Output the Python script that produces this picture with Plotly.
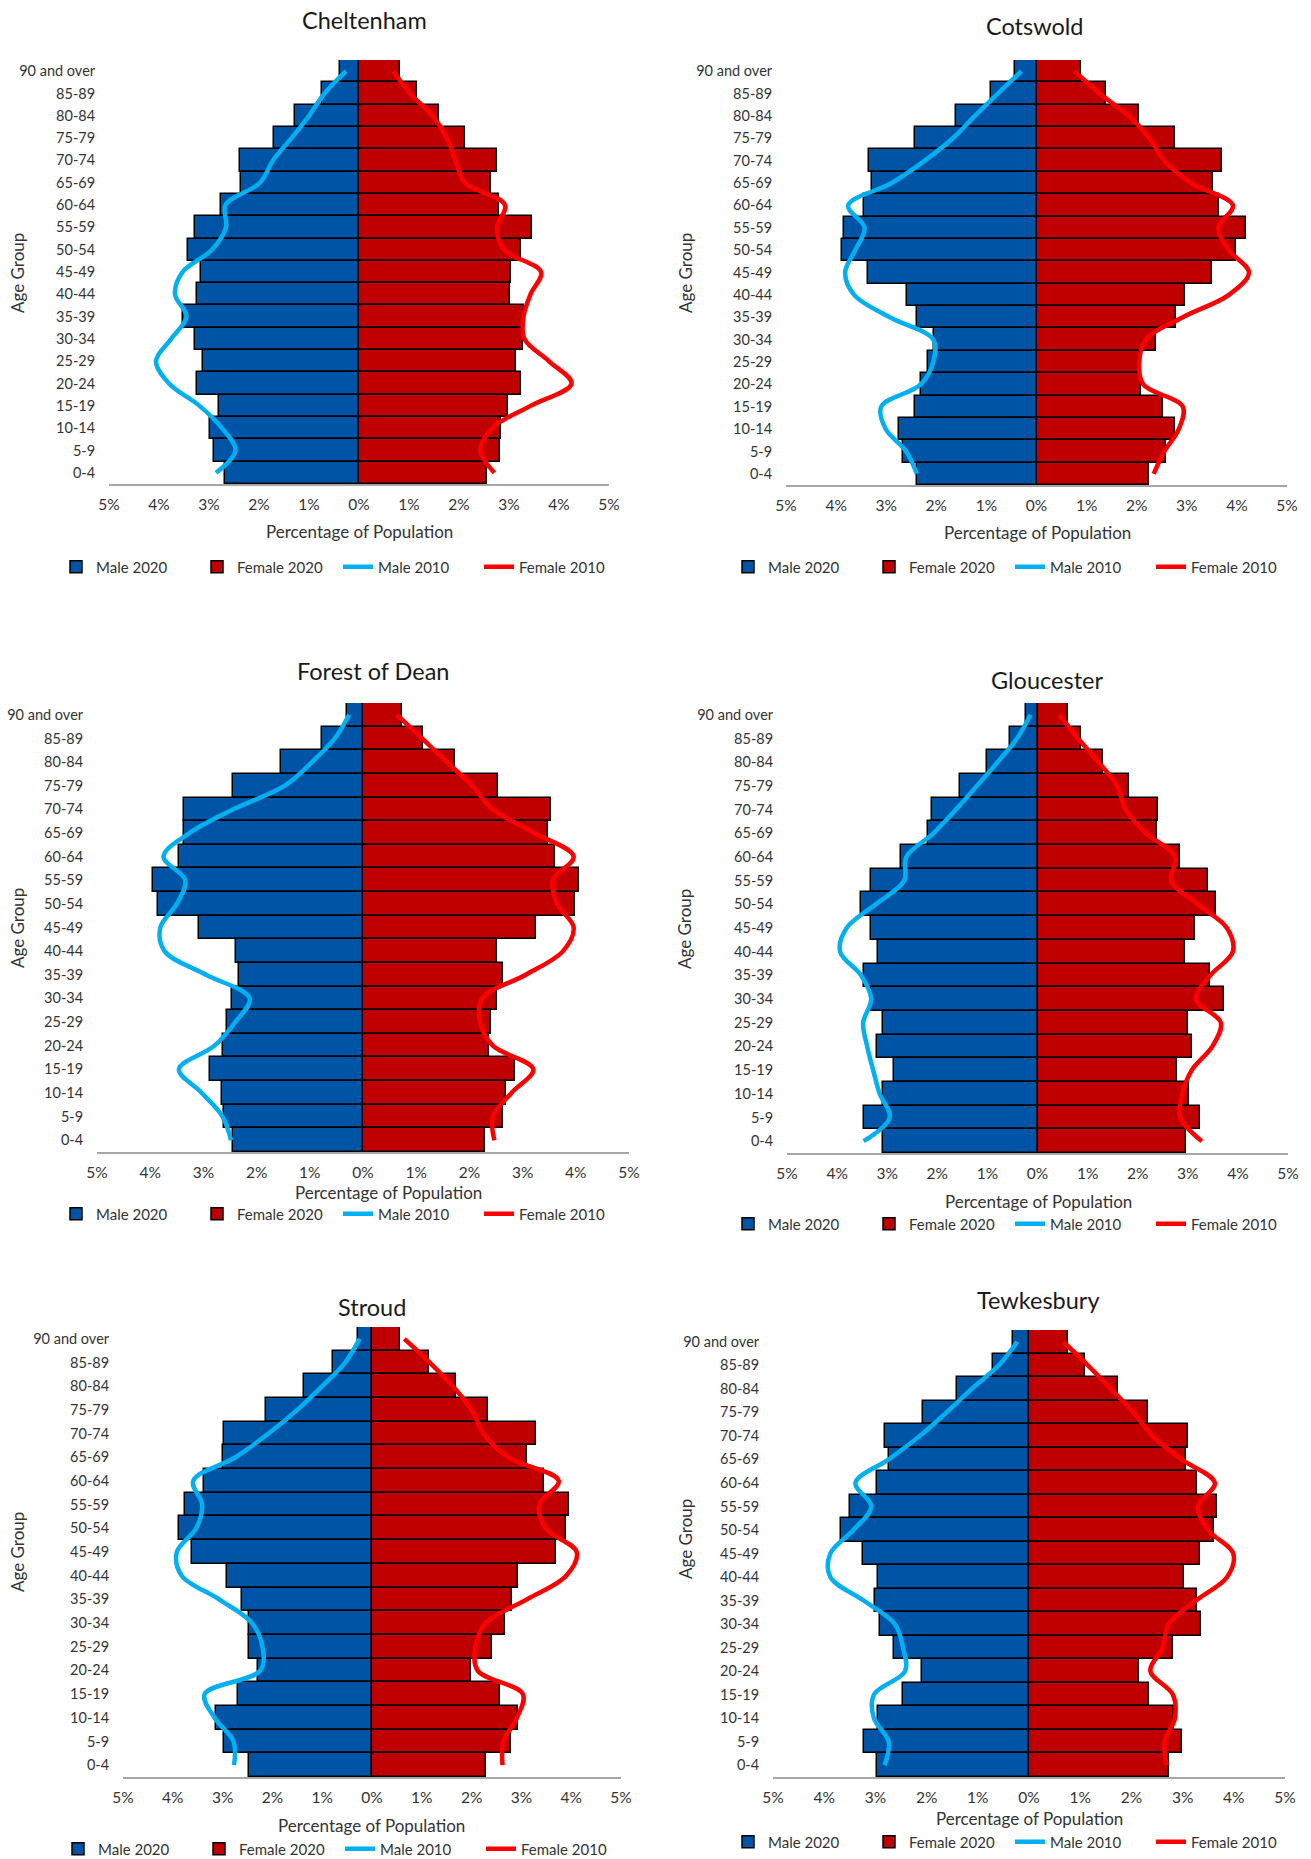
import plotly.graph_objects as go

# ---------------- data (percent of population) ----------------
AGE_GROUPS = ["90 and over", "85-89", "80-84", "75-79", "70-74", "65-69", "60-64",
              "55-59", "50-54", "45-49", "40-44", "35-39", "30-34", "25-29",
              "20-24", "15-19", "10-14", "5-9", "0-4"]

TICK_VALUES = [-5, -4, -3, -2, -1, 0, 1, 2, 3, 4, 5]
TICK_LABELS = ["5%", "4%", "3%", "2%", "1%", "0%", "1%", "2%", "3%", "4%", "5%"]

SERIES_NAMES = ["Male 2020", "Female 2020", "Male 2010", "Female 2010"]

DISTRICTS = ["Cheltenham", "Cotswold", "Forest of Dean", "Gloucester", "Stroud", "Tewkesbury"]

CHELTENHAM_MALE_2020 = [0.38, 0.74, 1.29, 1.71, 2.39, 2.36, 2.77, 3.28, 3.43, 3.16, 3.24, 3.53, 3.28, 3.12, 3.25, 2.81, 2.99, 2.90, 2.68]
CHELTENHAM_FEMALE_2020 = [0.81, 1.16, 1.59, 2.12, 2.75, 2.63, 2.79, 3.45, 3.24, 3.04, 3.02, 3.29, 3.27, 3.13, 3.24, 2.97, 2.83, 2.81, 2.55]
CHELTENHAM_MALE_2010 = [0.26, 0.69, 1.00, 1.35, 1.72, 1.98, 2.67, 2.66, 2.94, 3.53, 3.68, 3.45, 3.76, 4.06, 3.80, 3.19, 2.74, 2.47, 2.86]
CHELTENHAM_FEMALE_2010 = [0.69, 1.02, 1.47, 1.76, 1.93, 2.12, 2.92, 2.76, 2.90, 3.64, 3.43, 3.29, 3.31, 3.80, 4.25, 3.43, 2.66, 2.43, 2.71]

COTSWOLD_MALE_2020 = [0.43, 0.90, 1.61, 2.42, 3.34, 3.29, 3.45, 3.84, 3.89, 3.36, 2.58, 2.38, 2.04, 2.16, 2.31, 2.43, 2.75, 2.67, 2.39]
COTSWOLD_FEMALE_2020 = [0.89, 1.39, 2.05, 2.76, 3.70, 3.53, 3.65, 4.19, 3.99, 3.50, 2.97, 2.79, 2.38, 2.05, 2.08, 2.53, 2.77, 2.59, 2.24]
COTSWOLD_MALE_2010 = [0.30, 0.77, 1.23, 1.67, 2.23, 2.89, 3.76, 3.43, 3.62, 3.82, 3.64, 2.93, 2.06, 2.06, 2.31, 3.10, 3.01, 2.60, 2.39]
COTSWOLD_FEMALE_2010 = [0.76, 1.26, 1.84, 2.26, 2.55, 3.09, 3.92, 3.63, 3.84, 4.24, 3.84, 2.92, 2.18, 2.05, 2.13, 2.92, 2.84, 2.55, 2.34]

FOREST_MALE_2020 = [0.31, 0.77, 1.55, 2.44, 3.36, 3.36, 3.46, 3.95, 3.85, 3.09, 2.38, 2.33, 2.47, 2.56, 2.64, 2.87, 2.65, 2.62, 2.44]
FOREST_FEMALE_2020 = [0.73, 1.12, 1.73, 2.53, 3.53, 3.47, 3.61, 4.06, 3.98, 3.26, 2.51, 2.63, 2.51, 2.40, 2.37, 2.86, 2.69, 2.63, 2.30]
FOREST_MALE_2010 = [0.26, 0.53, 0.96, 1.47, 2.44, 3.26, 3.75, 3.34, 3.50, 3.81, 3.73, 2.95, 2.13, 2.40, 2.79, 3.46, 3.03, 2.64, 2.48]
FOREST_FEMALE_2010 = [0.64, 1.11, 1.58, 2.05, 2.44, 3.22, 3.96, 3.57, 3.65, 3.96, 3.76, 3.06, 2.24, 2.20, 2.44, 3.20, 2.79, 2.44, 2.47]

GLOUCESTER_MALE_2020 = [0.22, 0.55, 1.01, 1.54, 2.10, 2.19, 2.73, 3.33, 3.52, 3.32, 3.19, 3.46, 3.33, 3.09, 3.21, 2.86, 3.09, 3.46, 3.09]
GLOUCESTER_FEMALE_2020 = [0.60, 0.87, 1.30, 1.82, 2.40, 2.39, 2.85, 3.41, 3.57, 3.14, 2.95, 3.45, 3.72, 3.00, 3.08, 2.79, 3.02, 3.24, 2.97]
GLOUCESTER_MALE_2010 = [0.14, 0.41, 0.80, 1.21, 1.63, 2.08, 2.62, 2.66, 3.23, 3.81, 3.94, 3.52, 3.32, 3.48, 3.40, 3.28, 3.15, 2.95, 3.47]
GLOUCESTER_FEMALE_2010 = [0.44, 0.81, 1.22, 1.59, 1.76, 2.17, 2.75, 2.67, 3.20, 3.78, 3.90, 3.45, 3.16, 3.66, 3.49, 3.08, 2.89, 2.85, 3.28]

STROUD_MALE_2020 = [0.28, 0.78, 1.37, 2.12, 2.98, 3.00, 3.37, 3.75, 3.87, 3.62, 2.92, 2.62, 2.46, 2.46, 2.29, 2.70, 3.14, 2.98, 2.47]
STROUD_FEMALE_2020 = [0.56, 1.15, 1.69, 2.32, 3.30, 3.11, 3.46, 3.95, 3.90, 3.70, 2.93, 2.82, 2.67, 2.40, 1.99, 2.58, 2.93, 2.80, 2.29]
STROUD_MALE_2010 = [0.25, 0.54, 1.00, 1.50, 2.08, 2.74, 3.59, 3.41, 3.53, 3.92, 3.82, 3.07, 2.41, 2.20, 2.24, 3.36, 3.16, 2.78, 2.77]
STROUD_FEMALE_2010 = [0.65, 1.16, 1.62, 2.00, 2.24, 2.74, 3.75, 3.36, 3.49, 4.11, 3.90, 3.11, 2.28, 2.08, 2.12, 3.03, 2.91, 2.64, 2.62]

TEWKESBURY_MALE_2020 = [0.31, 0.70, 1.40, 2.07, 2.82, 2.74, 2.96, 3.50, 3.68, 3.25, 2.95, 3.00, 2.92, 2.64, 2.09, 2.47, 2.95, 3.23, 2.97]
TEWKESBURY_FEMALE_2020 = [0.76, 1.09, 1.74, 2.33, 3.10, 3.07, 3.29, 3.67, 3.61, 3.33, 3.03, 3.28, 3.36, 2.82, 2.15, 2.34, 2.83, 2.98, 2.74]
TEWKESBURY_MALE_2010 = [0.23, 0.59, 1.12, 1.61, 2.13, 2.74, 3.39, 3.08, 3.43, 3.88, 3.88, 3.23, 2.62, 2.46, 2.42, 3.03, 3.03, 2.74, 2.82]
TEWKESBURY_FEMALE_2010 = [0.67, 1.15, 1.60, 2.04, 2.41, 2.98, 3.63, 3.30, 3.50, 3.99, 3.87, 3.26, 2.73, 2.61, 2.37, 2.81, 2.85, 2.65, 2.69]

DATA = {
    "Cheltenham": (CHELTENHAM_MALE_2020, CHELTENHAM_FEMALE_2020, CHELTENHAM_MALE_2010, CHELTENHAM_FEMALE_2010),
    "Cotswold": (COTSWOLD_MALE_2020, COTSWOLD_FEMALE_2020, COTSWOLD_MALE_2010, COTSWOLD_FEMALE_2010),
    "Forest of Dean": (FOREST_MALE_2020, FOREST_FEMALE_2020, FOREST_MALE_2010, FOREST_FEMALE_2010),
    "Gloucester": (GLOUCESTER_MALE_2020, GLOUCESTER_FEMALE_2020, GLOUCESTER_MALE_2010, GLOUCESTER_FEMALE_2010),
    "Stroud": (STROUD_MALE_2020, STROUD_FEMALE_2020, STROUD_MALE_2010, STROUD_FEMALE_2010),
    "Tewkesbury": (TEWKESBURY_MALE_2020, TEWKESBURY_FEMALE_2020, TEWKESBURY_MALE_2010, TEWKESBURY_FEMALE_2010),
}

# ---------------- layout geometry (pixels) ----------------
W, H = 1311, 1859
GEOM = {
    # plot x-span, plot y-span, title centre, x-title centre, y-title centre, legend left/centre-y
    "Cheltenham":     dict(px=(109, 609), py=(60, 484), title=(364, 20), xt=(359, 531), yt=(17, 273), leg=(56, 567)),
    "Cotswold":       dict(px=(786, 1287), py=(60, 485), title=(1035, 26), xt=(1037, 533), yt=(685, 273), leg=(728, 567)),
    "Forest of Dean": dict(px=(97, 629), py=(703, 1152), title=(373, 671), xt=(388, 1192), yt=(17, 928), leg=(56, 1214)),
    "Gloucester":     dict(px=(787, 1288), py=(703, 1153), title=(1047, 680), xt=(1038, 1201), yt=(685, 929), leg=(728, 1224)),
    "Stroud":         dict(px=(123, 621), py=(1327, 1777), title=(372, 1307), xt=(372, 1825), yt=(17, 1552), leg=(58, 1849)),
    "Tewkesbury":     dict(px=(773, 1285), py=(1330, 1777), title=(1038, 1300), xt=(1029, 1818), yt=(685, 1539), leg=(728, 1842)),
}

FONT = "Lato, 'Open Sans', sans-serif"
TEXT = "#333333"
COL_M20, COL_F20 = "#0054A6", "#C00000"
COL_M10, COL_F10 = "#00B0F0", "#FF0000"

fig = go.Figure()
layout = dict(
    width=W, height=H, margin=dict(l=0, r=0, t=0, b=0, autoexpand=False),
    paper_bgcolor="white", plot_bgcolor="white",
    barmode="overlay", bargap=0,
    font=dict(family=FONT, color=TEXT, size=15),
    annotations=[],
)

for i, name in enumerate(DISTRICTS, start=1):
    g = GEOM[name]
    m20, f20, m10, f10 = DATA[name]
    xa = "x" if i == 1 else f"x{i}"
    ya = "y" if i == 1 else f"y{i}"
    lg = "legend" if i == 1 else f"legend{i}"

    fig.add_trace(go.Bar(y=AGE_GROUPS, x=[-v for v in m20], orientation="h", name=SERIES_NAMES[0],
                         marker=dict(color=COL_M20, line=dict(color="black", width=1.5)),
                         xaxis=xa, yaxis=ya, legend=lg))
    fig.add_trace(go.Bar(y=AGE_GROUPS, x=f20, orientation="h", name=SERIES_NAMES[1],
                         marker=dict(color=COL_F20, line=dict(color="black", width=1.5)),
                         xaxis=xa, yaxis=ya, legend=lg))
    fig.add_trace(go.Scatter(y=AGE_GROUPS, x=[-v for v in m10], mode="lines", name=SERIES_NAMES[2],
                             line=dict(color=COL_M10, width=4.5, shape="spline", smoothing=1.0),
                             xaxis=xa, yaxis=ya, legend=lg))
    fig.add_trace(go.Scatter(y=AGE_GROUPS, x=f10, mode="lines", name=SERIES_NAMES[3],
                             line=dict(color=COL_F10, width=4.5, shape="spline", smoothing=1.0),
                             xaxis=xa, yaxis=ya, legend=lg))

    xkey = "xaxis" if i == 1 else f"xaxis{i}"
    ykey = "yaxis" if i == 1 else f"yaxis{i}"
    layout[xkey] = dict(
        domain=[g["px"][0] / W, g["px"][1] / W], anchor=ya,
        range=[-5, 5], tickmode="array", tickvals=TICK_VALUES, ticktext=TICK_LABELS,
        showline=True, linecolor="#A6A6A6", linewidth=2, mirror=False,
        showgrid=False, zeroline=False,
        ticks="outside", ticklen=5, tickcolor="rgba(0,0,0,0)",
        tickfont=dict(size=15.5, color=TEXT, family=FONT), fixedrange=True,
    )
    layout[ykey] = dict(
        domain=[1 - g["py"][1] / H, 1 - g["py"][0] / H], anchor=xa,
        type="category", categoryorder="array", categoryarray=AGE_GROUPS,
        range=[len(AGE_GROUPS) - 0.5, -0.5],
        showline=False, showgrid=False, zeroline=False,
        ticks="outside", ticklen=10, tickcolor="rgba(0,0,0,0)",
        tickfont=dict(size=14.5, color=TEXT, family=FONT), fixedrange=True,
    )
    layout[lg] = dict(
        x=g["leg"][0] / W, y=1 - g["leg"][1] / H, xanchor="left", yanchor="middle",
        orientation="h", font=dict(size=15, color=TEXT, family=FONT),
        entrywidth=96, entrywidthmode="pixels", bgcolor="rgba(0,0,0,0)",
        traceorder="normal", tracegroupgap=0,
    )
    layout["annotations"] += [
        dict(text=name, x=g["title"][0] / W, y=1 - g["title"][1] / H, xref="paper", yref="paper",
             showarrow=False, xanchor="center", yanchor="middle",
             font=dict(size=23.5, color="#1A1A1A", family=FONT)),
        dict(text="Percentage of Population", x=g["xt"][0] / W, y=1 - g["xt"][1] / H, xref="paper", yref="paper",
             showarrow=False, xanchor="center", yanchor="middle",
             font=dict(size=17, color=TEXT, family=FONT)),
        dict(text="Age Group", x=g["yt"][0] / W, y=1 - g["yt"][1] / H, xref="paper", yref="paper",
             showarrow=False, xanchor="center", yanchor="middle", textangle=-90,
             font=dict(size=17, color=TEXT, family=FONT)),
    ]

fig.update_layout(**layout)
fig.write_html(
    "out.html",
    config={"displayModeBar": False, "staticPlot": False},
    post_script="document.body.style.margin='0';document.body.style.overflow='hidden';",
)
